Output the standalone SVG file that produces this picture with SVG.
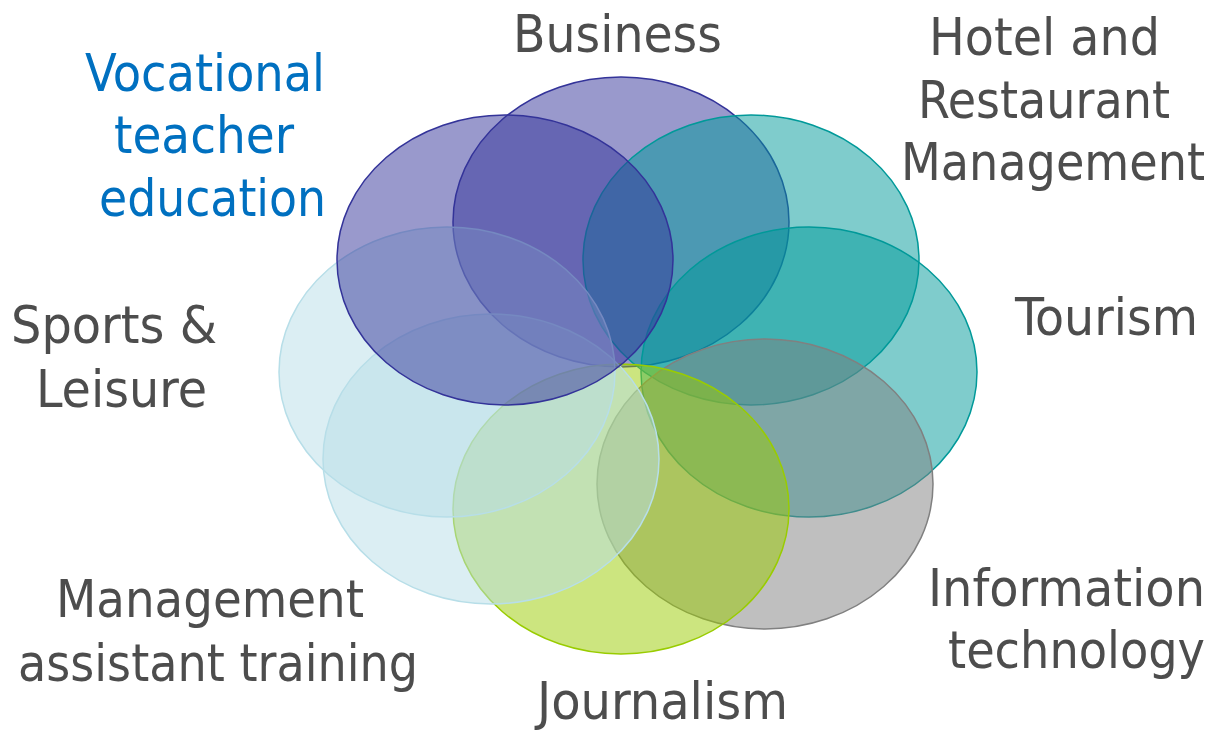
<svg xmlns="http://www.w3.org/2000/svg" width="1212" height="732" viewBox="0 0 1212 732">
<style>
  .e { fill-opacity: 0.5; stroke-width: 1.5; }
  .purple { fill: #333399; stroke: #333399; }
  .teal { fill: #009999; stroke: #009999; }
  .gray { fill: #808080; stroke: #808080; }
  .lime { fill: #99cc00; stroke: #99cc00; }
  .light { fill: #b7dee8; stroke: #b7dee8; }
  .t { font-family: "DejaVu Sans Condensed", "DejaVu Sans", Verdana, sans-serif; font-stretch: condensed; font-size: 52px; fill: #4d4d4d; }
  .r { text-anchor: end; }
  .blue { fill: #0070c0; }
</style>
<rect width="1212" height="732" fill="#ffffff"/>
<g id="business">
  <ellipse class="e purple" cx="621" cy="222" rx="168" ry="145"/>
  <text class="t" x="513" y="52" textLength="209" lengthAdjust="spacingAndGlyphs">Business</text>
</g>
<g id="hotel">
  <ellipse class="e teal" cx="751" cy="260" rx="168" ry="145"/>
  <text class="t r" x="1160" y="55" textLength="231" lengthAdjust="spacingAndGlyphs">Hotel and</text>
  <text class="t r" x="1170" y="118" textLength="252" lengthAdjust="spacingAndGlyphs">Restaurant</text>
  <text class="t r" x="1205" y="180" textLength="304" lengthAdjust="spacingAndGlyphs">Management</text>
</g>
<g id="tourism">
  <ellipse class="e teal" cx="809" cy="372" rx="168" ry="145"/>
  <text class="t r" x="1198" y="335" textLength="183" lengthAdjust="spacingAndGlyphs">Tourism</text>
</g>
<g id="it">
  <ellipse class="e gray" cx="765" cy="484" rx="168" ry="145"/>
  <text class="t r" x="1205" y="606" textLength="277" lengthAdjust="spacingAndGlyphs">Information</text>
  <text class="t r" x="1205" y="668" textLength="257" lengthAdjust="spacingAndGlyphs">technology</text>
</g>
<g id="journalism">
  <ellipse class="e lime" cx="621" cy="509" rx="168" ry="145"/>
  <text class="t" x="537" y="719" textLength="251" lengthAdjust="spacingAndGlyphs">Journalism</text>
</g>
<g id="management-assistant">
  <ellipse class="e light" cx="491" cy="459" rx="168" ry="145"/>
  <text class="t" x="56" y="617" textLength="308" lengthAdjust="spacingAndGlyphs">Management</text>
  <text class="t" x="18" y="681" textLength="400" lengthAdjust="spacingAndGlyphs">assistant training</text>
</g>
<g id="sports">
  <ellipse class="e light" cx="447" cy="372" rx="168" ry="145"/>
  <text class="t" x="11" y="343" textLength="206" lengthAdjust="spacingAndGlyphs">Sports &amp;</text>
  <text class="t" x="36" y="407" textLength="171" lengthAdjust="spacingAndGlyphs">Leisure</text>
</g>
<g id="vocational">
  <ellipse class="e purple" cx="505" cy="260" rx="168" ry="145"/>
  <text class="t blue" x="85" y="91" textLength="240" lengthAdjust="spacingAndGlyphs">Vocational</text>
  <text class="t blue" x="114" y="153" textLength="180" lengthAdjust="spacingAndGlyphs">teacher</text>
  <text class="t blue" x="99" y="216" textLength="227" lengthAdjust="spacingAndGlyphs">education</text>
</g>
<g id="connectors"/>
</svg>
